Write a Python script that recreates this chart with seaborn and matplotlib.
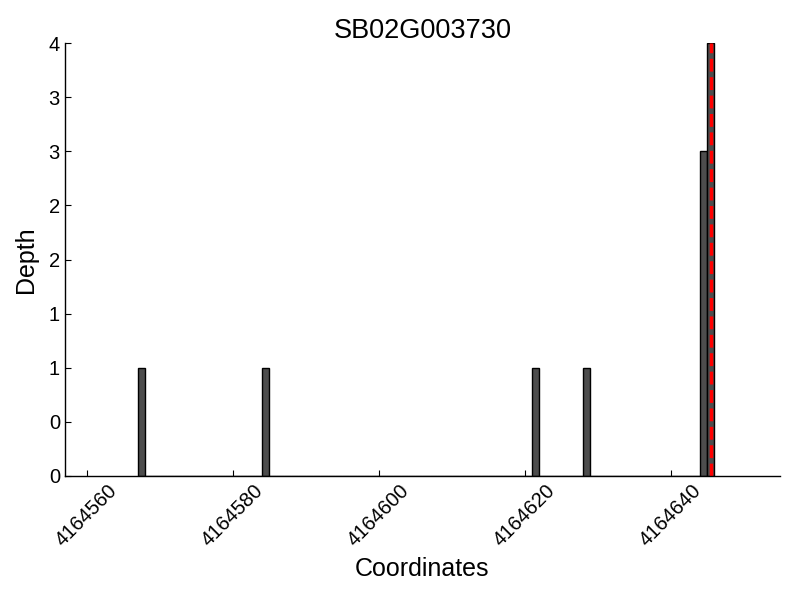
import numpy as np
import pandas as pd
import matplotlib
matplotlib.use('Agg')
import matplotlib.pyplot as plt
import seaborn as sns
from matplotlib.ticker import MultipleLocator, FormatStrFormatter

# read depth data off the reference
gene = 'SB02G003730'
coords = [4164567, 4164584, 4164621, 4164628, 4164644, 4164645]
depth = [1, 1, 1, 1, 3, 4]
highlight = 4164645
x_ticks = [4164560, 4164580, 4164600, 4164620, 4164640]

df = pd.DataFrame({'Coordinates': coords, 'Depth': depth})

sns.set_style('white')
plt.rcParams['font.family'] = ['Liberation Sans', 'DejaVu Sans']
plt.rcParams['text.color'] = 'black'
plt.rcParams['axes.labelcolor'] = 'black'
plt.rcParams['xtick.color'] = 'black'
plt.rcParams['ytick.color'] = 'black'

fig, ax = plt.subplots(figsize=(8, 6), dpi=100)
fig.subplots_adjust(left=0.081, right=0.975, top=0.928, bottom=0.207)

sns.histplot(data=df, x='Coordinates', weights='Depth', binwidth=1,
             binrange=(min(coords), max(coords) + 1),
             color='#4d4d4d', edgecolor='black', linewidth=1, alpha=1, ax=ax)
ax.axvline(highlight + 0.5, color='red', linestyle='--', linewidth=2.5)

ax.set_xlim(min(coords) - 10, max(coords) + 10)
ax.set_ylim(0, max(depth))
ax.set_xticks(x_ticks)
ax.set_xticklabels([str(t) for t in x_ticks], rotation=45, fontsize=14.5)
ax.yaxis.set_major_locator(MultipleLocator(0.5))
ax.yaxis.set_major_formatter(FormatStrFormatter('%d'))
ax.tick_params(axis='y', labelsize=14.5)
ax.tick_params(direction='in', length=4, width=0.8, color='black',
               bottom=True, left=True, top=False, right=False)

sns.despine(ax=ax)
for s in ['left', 'bottom']:
    ax.spines[s].set_color('black')
    ax.spines[s].set_linewidth(1)

ax.set_title(gene, fontsize=19.5, pad=4)
ax.set_xlabel('Coordinates', fontsize=18, labelpad=5)
ax.set_ylabel('Depth', fontsize=18, labelpad=8)

fig.savefig('out.png', dpi=100)
